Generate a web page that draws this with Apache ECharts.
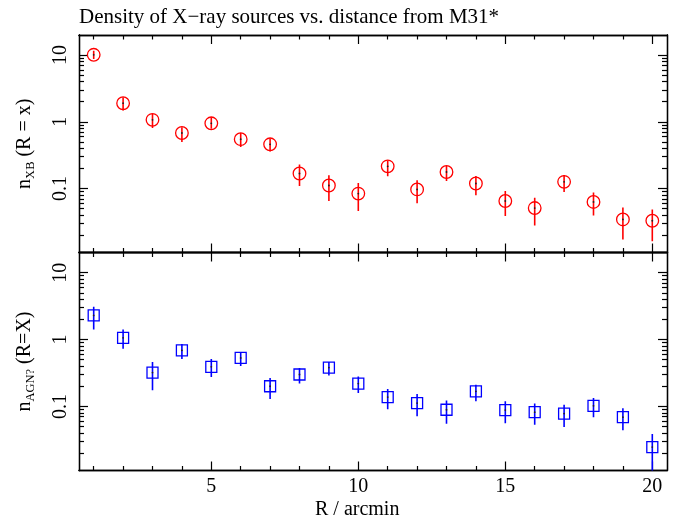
<!DOCTYPE html>
<html>
<head>
<meta charset="utf-8">
<script src="https://cdn.jsdelivr.net/npm/echarts@6/dist/echarts.min.js"></script>
<style>
  html, body { margin: 0; padding: 0; background: #fff; }
  #chart { width: 678px; height: 520px; }
</style>
</head>
<body>
<div id="chart"></div>
<script>
// Radial bins (arcmin)
const radius = [1, 2, 3, 4, 5, 6, 7, 8, 9, 10, 11, 12, 13, 14, 15, 16, 17, 18, 19, 20];

// X-ray binary candidates: density, lower and upper error
const xbValue = [10.1, 1.9, 1.07, 0.68, 0.95, 0.55, 0.46, 0.168, 0.111, 0.084,
                 0.215, 0.097, 0.177, 0.119, 0.065, 0.051, 0.126, 0.063, 0.0344, 0.0329];
const xbLow   = [8.7, 1.48, 0.81, 0.50, 0.79, 0.42, 0.36, 0.109, 0.065, 0.046,
                 0.153, 0.060, 0.130, 0.079, 0.0386, 0.028, 0.089, 0.0395, 0.0173, 0.0162];
const xbHigh  = [11.6, 2.33, 1.32, 0.83, 1.17, 0.68, 0.56, 0.23, 0.158, 0.121,
                 0.264, 0.133, 0.217, 0.154, 0.092, 0.073, 0.16, 0.087, 0.052, 0.0486];

// Possible background AGN: density, lower and upper error
const agnValue = [2.29, 1.06, 0.32, 0.69, 0.39, 0.53, 0.20, 0.30, 0.38, 0.219,
                  0.138, 0.112, 0.089, 0.168, 0.088, 0.082, 0.078, 0.102, 0.069, 0.0246];
const agnLow   = [1.41, 0.73, 0.174, 0.51, 0.276, 0.40, 0.129, 0.219, 0.29, 0.159,
                  0.091, 0.071, 0.055, 0.119, 0.056, 0.053, 0.049, 0.069, 0.044, 0.008];
const agnHigh  = [3.09, 1.41, 0.46, 0.86, 0.51, 0.65, 0.266, 0.376, 0.46, 0.28,
                  0.182, 0.153, 0.123, 0.211, 0.119, 0.11, 0.106, 0.133, 0.094, 0.0386];

// Tick positions and labels
const xMajorTicks = [5, 10, 15, 20];
const xMinorTicks = radius.filter(r => r % 5 !== 0);
const xTickLabels = [5, 10, 15, 20];
const yMajorTicks = [0.1, 1, 10];
const yMinorTicks = [];
[0.01, 0.1, 1].forEach(d => { for (let m = 2; m <= 9; m++) yMinorTicks.push(+(d * m).toPrecision(3)); });
const yTickLabels = [0.1, 1, 10];

const FONT = 'Liberation Serif';
const Y_MIN = 0.011, Y_MAX = 20;
const AXIS_LINE = { show: true, lineStyle: { color: '#000', width: 1.3 } };

function xAxisDef(gridIndex, position, ticks, len, labels) {
  return {
    type: 'value', gridIndex, position, min: 0.5, max: 20.5,
    axisLine: AXIS_LINE, splitLine: { show: false },
    axisTick: { show: true, inside: true, length: len, customValues: ticks,
                lineStyle: { color: '#000', width: 1.2 } },
    axisLabel: labels
      ? { show: true, customValues: labels, margin: 6, fontFamily: FONT, fontSize: 20, color: '#000' }
      : { show: false }
  };
}

function yAxisDef(gridIndex, position, ticks, len, labels, name) {
  const ax = {
    type: 'log', logBase: 10, gridIndex, position, min: Y_MIN, max: Y_MAX,
    axisLine: AXIS_LINE, splitLine: { show: false },
    axisTick: { show: true, inside: true, length: len, customValues: ticks,
                lineStyle: { color: '#000', width: 1.2 } },
    axisLabel: labels
      ? { show: true, customValues: labels, rotate: 90, margin: 8, fontFamily: FONT,
          fontSize: 20, color: '#000', formatter: v => String(v) }
      : { show: false }
  };
  if (name) {
    ax.name = name;
    ax.nameLocation = 'middle';
    ax.nameGap = 42;
    ax.nameRotate = 90;
    ax.nameTextStyle = {
      color: '#000',
      rich: {
        n: { fontFamily: FONT, fontSize: 20, color: '#000', verticalAlign: 'bottom', padding: [0, 0, 2.5, 0] },
        s: { fontFamily: FONT, fontSize: 12.5, color: '#000', verticalAlign: 'bottom' }
      }
    };
  }
  return ax;
}

// Error bar with an open marker and a centre dot
function errorMarker(shape, color) {
  return function (params, api) {
    const x = api.value(0);
    const c = api.coord([x, api.value(1)]);
    const lo = api.coord([x, api.value(2)]);
    const hi = api.coord([x, api.value(3)]);
    const children = [
      { type: 'line', shape: { x1: c[0], y1: hi[1], x2: c[0], y2: lo[1] },
        style: { stroke: color, lineWidth: 1.6 } }
    ];
    if (shape === 'circle') {
      children.push({ type: 'circle', shape: { cx: c[0], cy: c[1], r: 6.3 },
                      style: { fill: null, stroke: color, lineWidth: 1.3 } });
    } else {
      children.push({ type: 'rect', shape: { x: c[0] - 5.5, y: c[1] - 5.5, width: 11, height: 11 },
                      style: { fill: null, stroke: color, lineWidth: 1.3 } });
    }
    children.push({ type: 'circle', shape: { cx: c[0], cy: c[1], r: 0.9 }, style: { fill: '#222' } });
    return { type: 'group', children };
  };
}

const xbData = radius.map((r, i) => [r, xbValue[i], xbLow[i], xbHigh[i]]);
const agnData = radius.map((r, i) => [r, agnValue[i], agnLow[i], agnHigh[i]]);

const chart = echarts.init(document.getElementById('chart'), null, { renderer: 'canvas' });
chart.setOption({
  backgroundColor: '#fff',
  animation: false,
  title: [
    { text: 'Density of X\u2212ray sources vs. distance from M31*', left: 79, top: 7, padding: 0,
      textStyle: { fontFamily: FONT, fontSize: 21, fontWeight: 'normal', color: '#000' } },
    { text: 'R / arcmin', left: 315, top: 500, padding: 0,
      textStyle: { fontFamily: FONT, fontSize: 20, fontWeight: 'normal', color: '#000' } }
  ],
  grid: [
    { left: 79, right: 11, top: 35, height: 217.5, outerBoundsMode: 'none' },
    { left: 79, right: 11, top: 252.5, height: 218, outerBoundsMode: 'none' }
  ],
  xAxis: [
    xAxisDef(0, 'bottom', xMinorTicks, 4.5),
    xAxisDef(0, 'bottom', xMajorTicks, 9),
    xAxisDef(0, 'top', xMinorTicks, 4.5),
    xAxisDef(0, 'top', xMajorTicks, 9),
    xAxisDef(1, 'bottom', xMinorTicks, 4.5),
    xAxisDef(1, 'bottom', xMajorTicks, 9, xTickLabels),
    xAxisDef(1, 'top', xMinorTicks, 4.5),
    xAxisDef(1, 'top', xMajorTicks, 9)
  ],
  yAxis: [
    yAxisDef(0, 'left', yMajorTicks, 9, yTickLabels, '{n|n}{s|XB}{n| (R = x)}'),
    yAxisDef(0, 'left', yMinorTicks, 5),
    yAxisDef(0, 'right', yMajorTicks, 9),
    yAxisDef(0, 'right', yMinorTicks, 5),
    yAxisDef(1, 'left', yMajorTicks, 9, yTickLabels, '{n|n}{s|AGN?}{n| (R=X)}'),
    yAxisDef(1, 'left', yMinorTicks, 5),
    yAxisDef(1, 'right', yMajorTicks, 9),
    yAxisDef(1, 'right', yMinorTicks, 5)
  ],
  series: [
    { type: 'custom', name: 'XB', xAxisIndex: 0, yAxisIndex: 0, clip: true,
      renderItem: errorMarker('circle', '#ff0000'), data: xbData },
    { type: 'custom', name: 'AGN', xAxisIndex: 4, yAxisIndex: 4, clip: true,
      renderItem: errorMarker('square', '#0000ff'), data: agnData }
  ]
});
</script>
</body>
</html>
